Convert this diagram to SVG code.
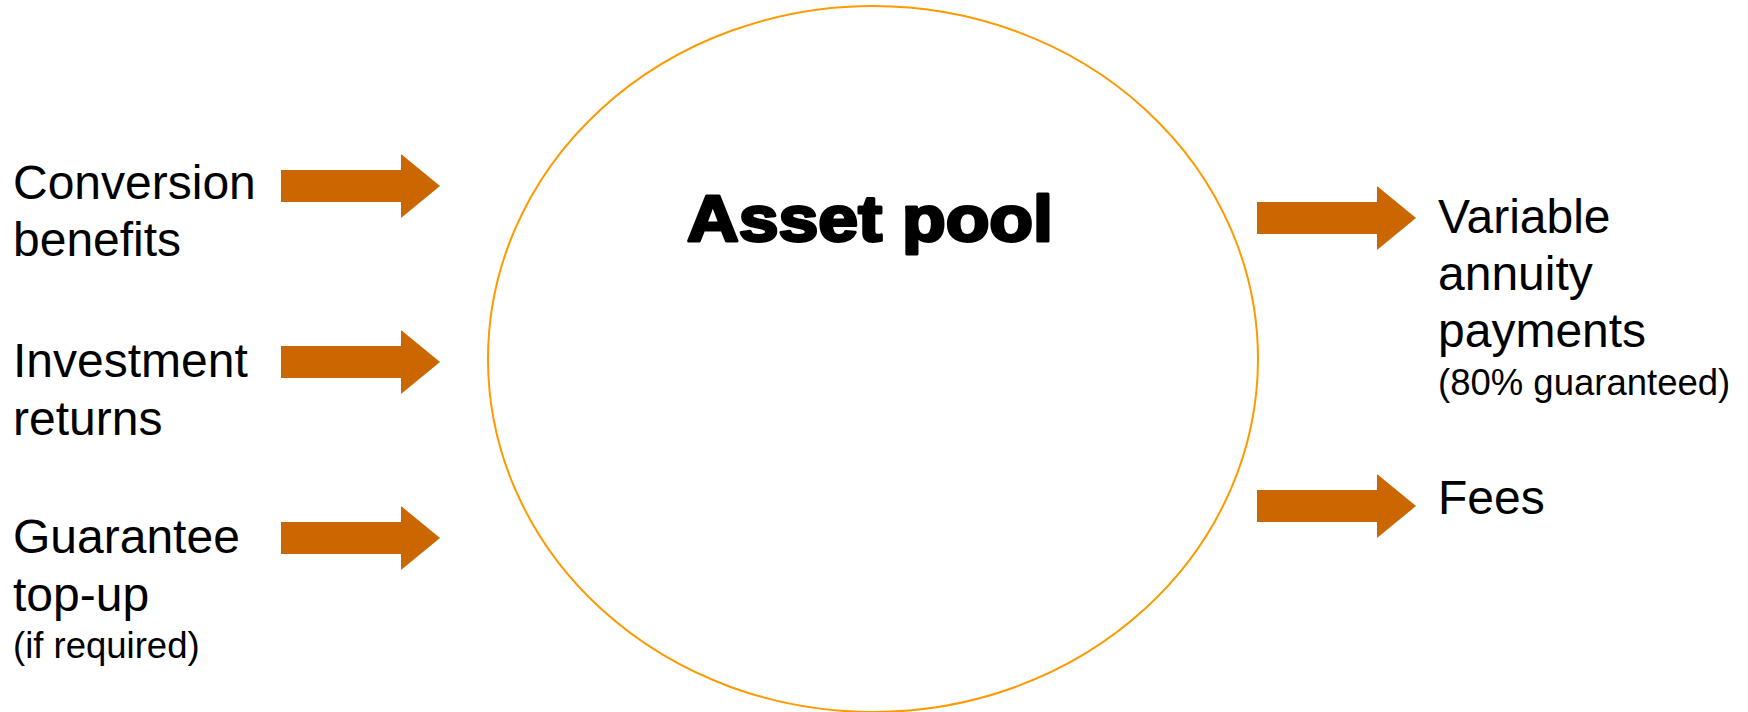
<svg xmlns="http://www.w3.org/2000/svg" width="1748" height="712" viewBox="0 0 1748 712">
<style>
.lbl{font-family:"Liberation Sans",Arial,sans-serif;font-size:48px;fill:#000}
.sm{font-family:"Liberation Sans",Arial,sans-serif;font-size:36.5px;fill:#000}
.title{font-family:"Liberation Sans",Arial,sans-serif;font-size:64px;font-weight:bold;fill:#000;stroke:#000;stroke-width:3;stroke-linejoin:round}
.arrow{fill:#CC6600}
</style>
<defs>
<path id="arr" d="M0,-16 H120 V-32 L159,0 L120,32 V16 H0 Z"/>
</defs>
<rect width="1748" height="712" fill="#fff"/>
<g id="asset-pool">
<ellipse cx="873" cy="359" rx="385" ry="353" fill="none" stroke="#FF9900" stroke-width="2"/>
<text class="title" x="870" y="241" text-anchor="middle" textLength="366" lengthAdjust="spacingAndGlyphs">Asset pool</text>
</g>
<g id="conversion-benefits">
<text class="lbl" x="13" y="199">Conversion</text>
<text class="lbl" x="13" y="256">benefits</text>
</g>
<g id="investment-returns">
<text class="lbl" x="13" y="377">Investment</text>
<text class="lbl" x="13" y="435">returns</text>
</g>
<g id="guarantee-top-up">
<text class="lbl" x="13" y="553">Guarantee</text>
<text class="lbl" x="13" y="611">top-up</text>
<text class="sm" x="13" y="658">(if required)</text>
</g>
<g id="variable-annuity-payments">
<text class="lbl" x="1438" y="233">Variable</text>
<text class="lbl" x="1438" y="290">annuity</text>
<text class="lbl" x="1438" y="347">payments</text>
<text class="sm" x="1438" y="395">(80% guaranteed)</text>
</g>
<g id="fees">
<text class="lbl" x="1438" y="514">Fees</text>
</g>
<g id="connectors">
<use href="#arr" class="arrow" x="281" y="186"/>
<use href="#arr" class="arrow" x="281" y="362"/>
<use href="#arr" class="arrow" x="281" y="538"/>
<use href="#arr" class="arrow" x="1257" y="218"/>
<use href="#arr" class="arrow" x="1257" y="506"/>
</g>
</svg>
